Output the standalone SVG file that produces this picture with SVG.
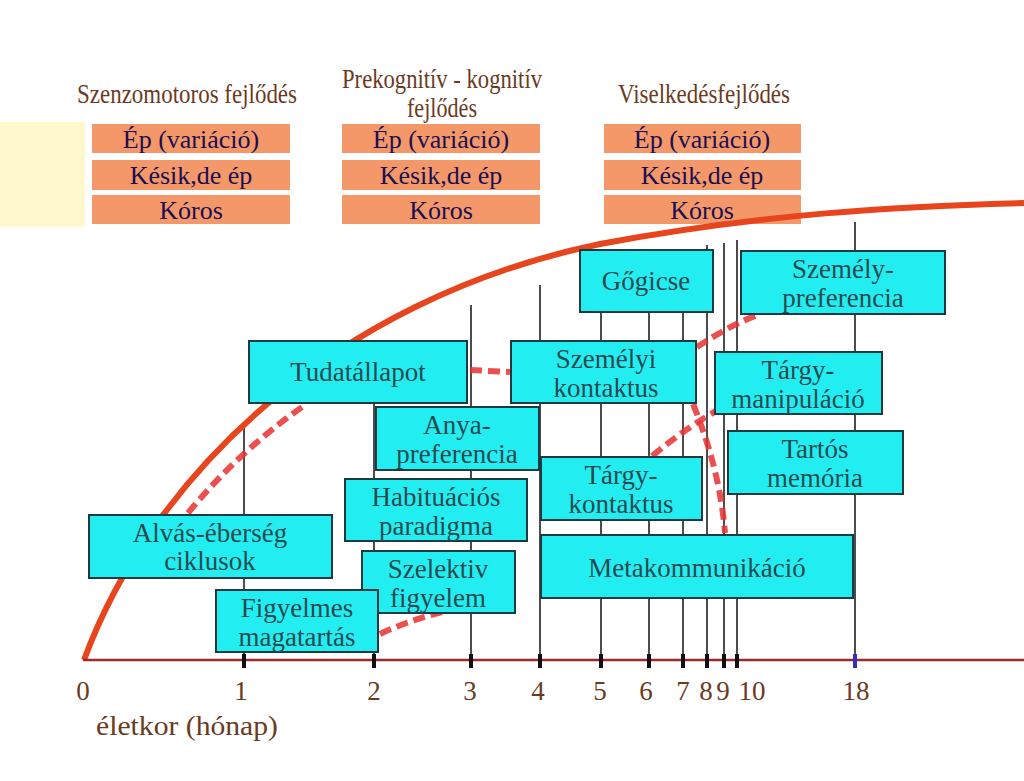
<svg xmlns="http://www.w3.org/2000/svg" width="1024" height="781" viewBox="0 0 1024 781">
<style>
.n rect{fill:#22EEF2;stroke:#1a3a40;stroke-width:2}
.n text,.o text{font-family:"Liberation Serif",serif;font-size:27px;fill:#2a4a50;text-anchor:middle}
.o rect{fill:#F4986A}
.o text{fill:#1a1050;font-size:26px}
.t{font-family:"Liberation Serif",serif;fill:#6b3a1e;font-size:27px;text-anchor:middle}
.v{stroke:#111;stroke-width:1.5}
.tk{stroke:#111;stroke-width:4}
.c{stroke:#e83030;stroke-width:6;stroke-dasharray:12 6;fill:none;opacity:0.85}
</style>
<rect width="1024" height="781" fill="#fff"/>
<rect x="0" y="122" width="85" height="105" fill="#FFF8CC"/>
<g id="titles">
<text class="t" x="187" y="103" textLength="220" lengthAdjust="spacingAndGlyphs">Szenzomotoros fejlődés</text>
<text class="t" x="442" y="88" textLength="200" lengthAdjust="spacingAndGlyphs">Prekognitív - kognitív</text>
<text class="t" x="442" y="117" textLength="70" lengthAdjust="spacingAndGlyphs">fejlődés</text>
<text class="t" x="704" y="103" textLength="172" lengthAdjust="spacingAndGlyphs">Viselkedésfejlődés</text>
</g>
<g id="legend1" class="o"><rect x="92" y="124" width="198" height="29"/><text x="191" y="148">Ép (variáció)</text>
<rect x="92" y="160" width="198" height="30"/><text x="191" y="184">Késik,de ép</text>
<rect x="92" y="195" width="198" height="29"/><text x="191" y="219">Kóros</text></g>
<g id="legend2" class="o"><rect x="342" y="124" width="198" height="29"/><text x="441" y="148">Ép (variáció)</text>
<rect x="342" y="160" width="198" height="30"/><text x="441" y="184">Késik,de ép</text>
<rect x="342" y="195" width="198" height="29"/><text x="441" y="219">Kóros</text></g>
<g id="legend3" class="o"><rect x="604" y="124" width="197" height="29"/><text x="702" y="148">Ép (variáció)</text>
<rect x="604" y="160" width="197" height="30"/><text x="702" y="184">Késik,de ép</text>
<rect x="604" y="195" width="197" height="29"/><text x="702" y="219">Kóros</text></g>
<g id="grid">
<line class="v" x1="244" y1="660" x2="244" y2="428"/>
<line class="v" x1="374" y1="660" x2="374" y2="345"/>
<line class="v" x1="471" y1="660" x2="471" y2="305"/>
<line class="v" x1="540" y1="660" x2="540" y2="285"/>
<line class="v" x1="601" y1="660" x2="601" y2="265"/>
<line class="v" x1="649" y1="660" x2="649" y2="255"/>
<line class="v" x1="683" y1="660" x2="683" y2="250"/>
<line class="v" x1="707" y1="660" x2="707" y2="245"/>
<line class="v" x1="724" y1="660" x2="724" y2="243"/>
<line class="v" x1="737" y1="660" x2="737" y2="240"/>
<line class="v" x1="855" y1="660" x2="855" y2="222"/>
</g>
<path d="M84,660 C150,480 330,300 600,244 C760,214 900,206 1024,203" fill="none" stroke="#E8451E" stroke-width="6"/>
<line x1="83" y1="660" x2="1024" y2="660" stroke="#a02828" stroke-width="2.5"/>
<g id="ticks">
<line class="tk" x1="244" y1="654" x2="244" y2="668"/><line class="tk" x1="374" y1="654" x2="374" y2="668"/>
<line class="tk" x1="471" y1="654" x2="471" y2="668"/><line class="tk" x1="540" y1="654" x2="540" y2="668"/>
<line class="tk" x1="601" y1="654" x2="601" y2="668"/><line class="tk" x1="649" y1="654" x2="649" y2="668"/>
<line class="tk" x1="683" y1="654" x2="683" y2="668"/><line class="tk" x1="707" y1="654" x2="707" y2="668"/>
<line class="tk" x1="724" y1="654" x2="724" y2="668"/><line class="tk" x1="737" y1="654" x2="737" y2="668"/>
<line x1="855" y1="654" x2="855" y2="668" stroke="#3030c0" stroke-width="4"/>
</g>
<g id="labels">
<text class="t" x="83" y="700" font-size="32">0</text><text class="t" x="241" y="700" font-size="32">1</text>
<text class="t" x="374" y="700" font-size="32">2</text><text class="t" x="470" y="700" font-size="32">3</text>
<text class="t" x="538" y="700" font-size="32">4</text><text class="t" x="600" y="700" font-size="32">5</text>
<text class="t" x="646" y="700" font-size="32">6</text><text class="t" x="683" y="700" font-size="32">7</text>
<text class="t" x="706" y="700" font-size="32">8</text><text class="t" x="723" y="700" font-size="32">9</text>
<text class="t" x="752" y="700" font-size="32">10</text><text class="t" x="856" y="700" font-size="32">18</text>
<text class="t" x="187" y="735" font-size="32" textLength="182" lengthAdjust="spacingAndGlyphs">életkor (hónap)</text>
</g>
<g id="connectors">
<path class="c" d="M188,513 Q240,450 305,405"/>
<path class="c" d="M380,634 Q410,620 442,612"/>
<path class="c" d="M470,370 L510,372"/>
<path class="c" d="M697,347 Q730,325 760,314"/>
<path class="c" d="M652,456 Q690,425 718,410"/>
<path class="c" d="M693,404 Q720,470 725,533"/>
</g>
<g id="alvas" class="n"><rect x="89" y="515" width="243" height="63"/><text x="210" y="542">Alvás-éberség</text><text x="210" y="570">ciklusok</text></g>
<g id="tudat" class="n"><rect x="249" y="341" width="218" height="62"/><text x="358" y="381">Tudatállapot</text></g>
<g id="anya" class="n"><rect x="376" y="407" width="163" height="63"/><text x="457" y="434">Anya-</text><text x="457" y="463">preferencia</text></g>
<g id="habit" class="n"><rect x="345" y="479" width="182" height="62"/><text x="436" y="506">Habituációs</text><text x="436" y="535">paradigma</text></g>
<g id="szelektiv" class="n"><rect x="362" y="551" width="153" height="62"/><text x="438" y="578">Szelektiv</text><text x="438" y="607">figyelem</text></g>
<g id="figyelmes" class="n"><rect x="216" y="590" width="162" height="62"/><text x="297" y="617">Figyelmes</text><text x="297" y="646">magatartás</text></g>
<g id="gogicse" class="n"><rect x="580" y="250" width="133" height="62"/><text x="646" y="290">Gőgicse</text></g>
<g id="szemelyi" class="n"><rect x="511" y="341" width="185" height="62"/><text x="606" y="368">Személyi</text><text x="606" y="397">kontaktus</text></g>
<g id="targyk" class="n"><rect x="541" y="457" width="161" height="63"/><text x="621" y="484">Tárgy-</text><text x="621" y="513">kontaktus</text></g>
<g id="meta" class="n"><rect x="541" y="535" width="312" height="63"/><text x="697" y="577">Metakommunikáció</text></g>
<g id="szpref" class="n"><rect x="741" y="251" width="204" height="63"/><text x="843" y="278">Személy-</text><text x="843" y="307">preferencia</text></g>
<g id="targym" class="n"><rect x="715" y="352" width="167" height="62"/><text x="798" y="379">Tárgy-</text><text x="798" y="408">manipuláció</text></g>
<g id="tartos" class="n"><rect x="728" y="431" width="175" height="63"/><text x="815" y="458">Tartós</text><text x="815" y="487">memória</text></g>
</svg>
